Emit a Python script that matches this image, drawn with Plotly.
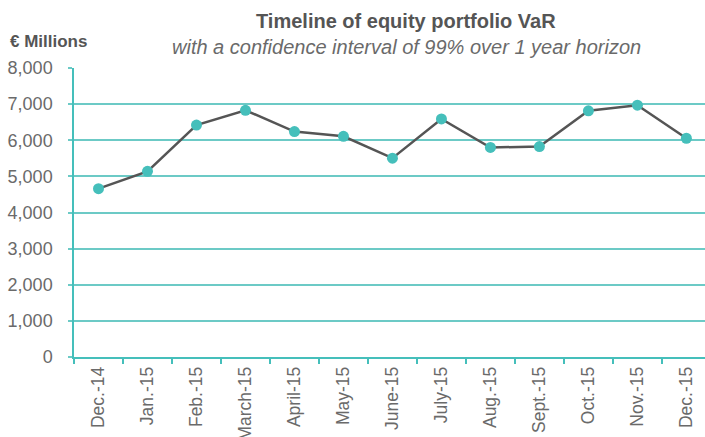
import plotly.graph_objects as go

months = ["Dec.-14", "Jan.-15", "Feb.-15", "March-15", "April-15", "May-15", "June-15",
          "July-15", "Aug.-15", "Sept.-15", "Oct.-15", "Nov.-15", "Dec.-15"]
var_values = [4660, 5140, 6420, 6830, 6240, 6110, 5505, 6590, 5800, 5825, 6815, 6970, 6055]
y_ticks = [0, 1000, 2000, 3000, 4000, 5000, 6000, 7000, 8000]

teal = "#45bfbb"
grid = "#6ccac6"
font = "Liberation Sans"

fig = go.Figure()
fig.add_trace(go.Scatter(
    x=months, y=var_values, mode="lines+markers",
    line=dict(color="#555555", width=2.5),
    marker=dict(color=teal, size=11),
    showlegend=False, hoverinfo="x+y"))

fig.update_layout(
    width=705, height=437,
    margin=dict(l=74, r=0, t=68, b=80),
    plot_bgcolor="white", paper_bgcolor="white",
    font=dict(family=font, color="#6a6a6a", size=15),
    xaxis=dict(
        type="category", range=[-0.5, 12.38], automargin=False,
        showgrid=False, showline=True, linecolor=teal, linewidth=1.5,
        ticks="outside", tickson="boundaries", ticklen=5, tickcolor=teal, tickwidth=1.5,
        tickangle=-90, tickfont=dict(size=17.5, color="#6a6a6a"),
        ticklabelstandoff=1),
    yaxis=dict(
        range=[0, 8000], tickvals=y_ticks, tickformat=",d", automargin=False,
        showgrid=True, gridcolor=grid, gridwidth=1.5,
        showline=True, linecolor=teal, linewidth=1.5,
        ticks="outside", ticklen=4, tickcolor=grid, tickwidth=1.5,
        zeroline=False, tickfont=dict(size=18, color="#6a6a6a"),
        ticklabelstandoff=12),
    annotations=[
        dict(text="<b>Timeline of equity portfolio VaR</b>", x=406, y=21,
             xref="paper", yref="paper", showarrow=False, xanchor="center", yanchor="middle",
             font=dict(size=20, color="#555555", family=font)),
        dict(text="<i>with a confidence interval of 99% over 1 year horizon</i>", x=406, y=47,
             xref="paper", yref="paper", showarrow=False, xanchor="center", yanchor="middle",
             font=dict(size=20, color="#6a6a6a", family=font)),
        dict(text="<b>€ Millions</b>", x=8, y=42,
             xref="paper", yref="paper", showarrow=False, xanchor="left", yanchor="middle",
             font=dict(size=17, color="#555555", family=font)),
    ],
)

# convert pixel annotation positions (from top-left) to paper coords
pw = 705 - 74 - 0
ph = 437 - 68 - 80
for a in fig.layout.annotations:
    a.x = (a.x - 74) / pw
    a.y = (357 - a.y) / ph

fig.write_html("out.html")
